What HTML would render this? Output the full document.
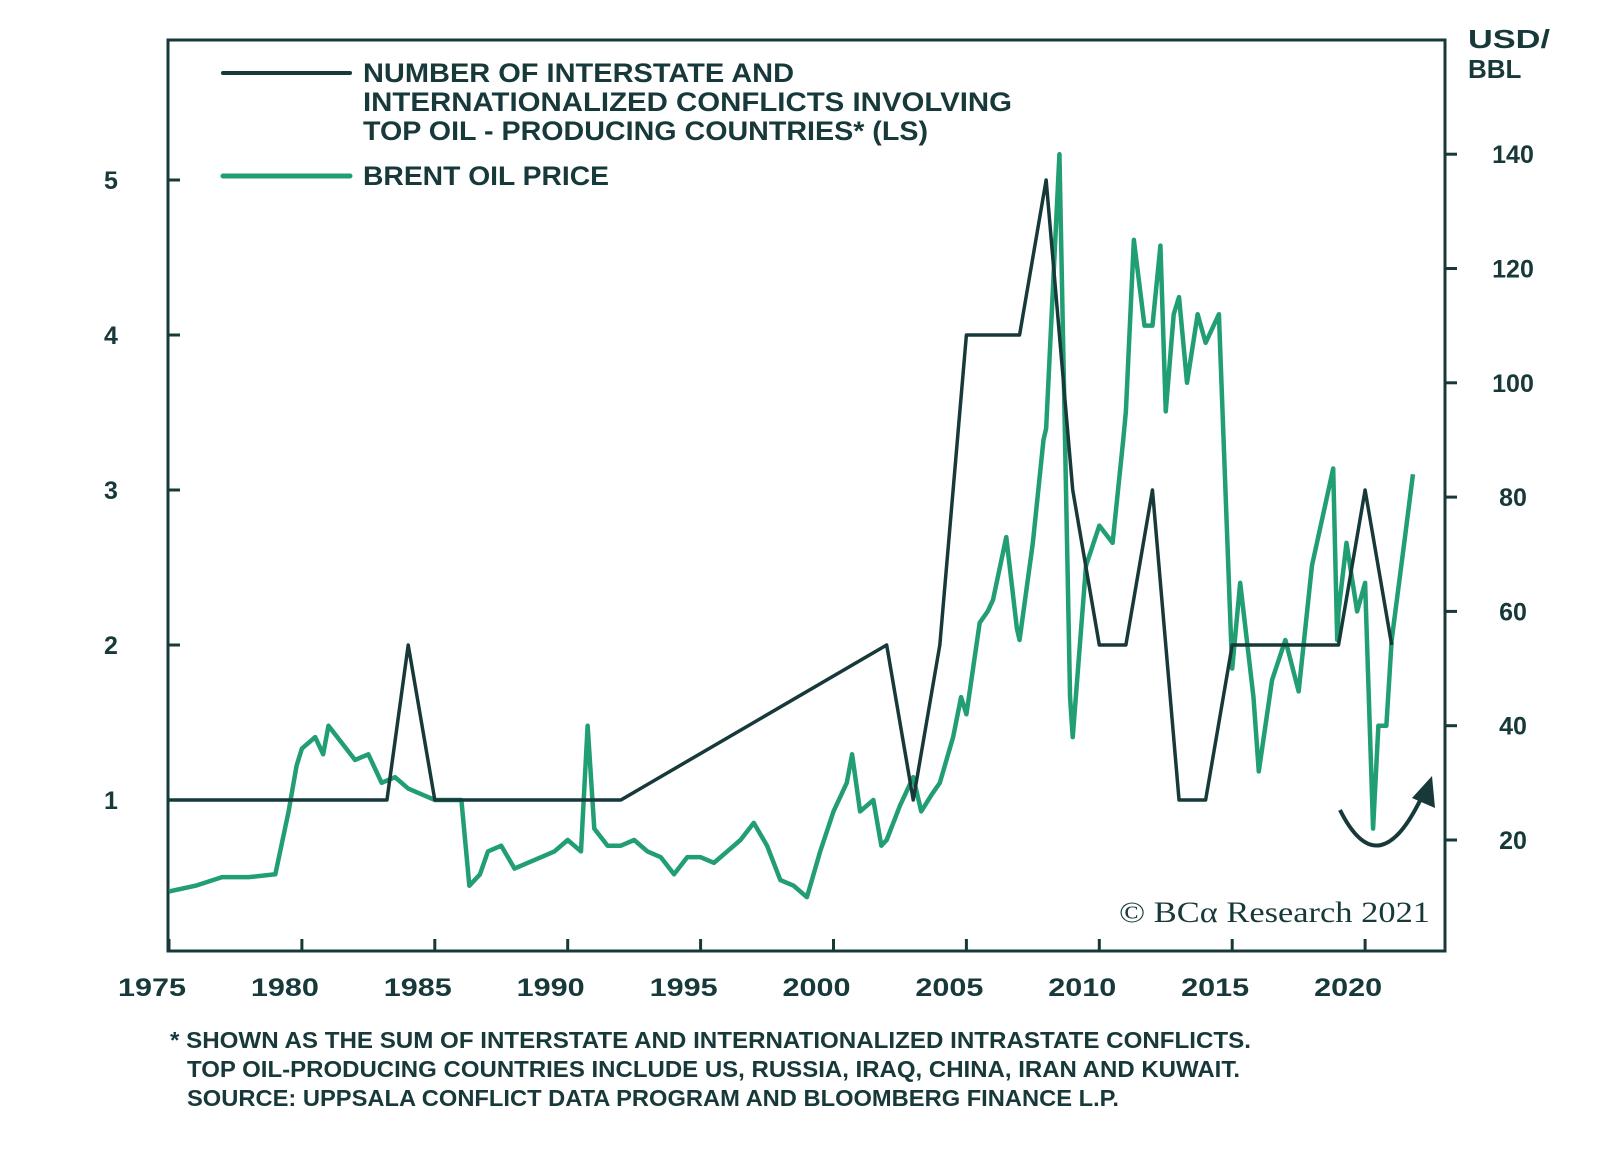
<!DOCTYPE html>
<html><head><meta charset="utf-8"><style>
body{margin:0;background:#fff;}
svg{display:block;font-family:"Liberation Sans",sans-serif;}
</style></head><body>
<svg id="chart" width="1600" height="1158" viewBox="0 0 1600 1158">
<g id="axes"></g>
<g id="series"></g>
<g font-weight="bold" font-size="27" fill="#17393a">
 <line x1="223" y1="73" x2="350" y2="73" stroke="#17393a" stroke-width="4" stroke-linecap="round"/>
 <text x="363" y="82" textLength="431" lengthAdjust="spacingAndGlyphs">NUMBER OF INTERSTATE AND</text>
 <text x="363" y="111" textLength="649" lengthAdjust="spacingAndGlyphs">INTERNATIONALIZED CONFLICTS INVOLVING</text>
 <text x="363" y="140" textLength="565" lengthAdjust="spacingAndGlyphs">TOP OIL - PRODUCING COUNTRIES* (LS)</text>
 <line x1="223" y1="176" x2="350" y2="176" stroke="#229e73" stroke-width="5" stroke-linecap="round"/>
 <text x="363" y="185" textLength="246" lengthAdjust="spacingAndGlyphs">BRENT OIL PRICE</text>
</g>
<g font-weight="bold" font-size="26" fill="#17393a">
 <text x="1468" y="48" textLength="82" lengthAdjust="spacingAndGlyphs">USD/</text>
 <text x="1468" y="78">BBL</text>
</g>
<text x="1119" y="922" textLength="311" lengthAdjust="spacingAndGlyphs" font-family="Liberation Serif,serif" font-size="30" fill="#17393a">© BCα Research 2021</text>
<path d="M1340,810 Q1380,890 1425,790" fill="none" stroke="#17393a" stroke-width="4"/>
<polygon points="1432,776 1435,808 1412,798" fill="#17393a"/>
<g font-weight="bold" font-size="23" fill="#17393a">
 <text x="170" y="1048" textLength="1081" lengthAdjust="spacingAndGlyphs">* SHOWN AS THE SUM OF INTERSTATE AND INTERNATIONALIZED INTRASTATE CONFLICTS.</text>
 <text x="187" y="1077" textLength="1053" lengthAdjust="spacingAndGlyphs">TOP OIL-PRODUCING COUNTRIES INCLUDE US, RUSSIA, IRAQ, CHINA, IRAN AND KUWAIT.</text>
 <text x="187" y="1106" textLength="932" lengthAdjust="spacingAndGlyphs">SOURCE: UPPSALA CONFLICT DATA PROGRAM AND BLOOMBERG FINANCE L.P.</text>
</g>
</svg>
<script>
const conflictYears=[1975,1983.2,1984,1985,1992,2002,2003,2004,2005,2007,2008,2009,2010,2011,2012,2013,2014,2015,2019,2020,2021];
const conflictValues=[1,1,2,1,1,2,1,2,4,4,5,3,2,2,3,1,1,2,2,3,2];
const oilYears=[1975,1976,1977,1978,1979,1979.5,1979.8,1980,1980.5,1980.8,1981,1981.5,1982,1982.5,1983,1983.5,1984,1984.5,1985,1985.5,1986,1986.3,1986.7,1987,1987.5,1988,1988.5,1989,1989.5,1990,1990.5,1990.75,1991,1991.5,1992,1992.5,1993,1993.5,1994,1994.5,1995,1995.5,1996,1996.5,1997,1997.5,1998,1998.5,1999,1999.5,2000,2000.5,2000.7,2001,2001.5,2001.8,2002,2002.5,2003,2003.3,2003.7,2004,2004.5,2004.8,2005,2005.5,2005.8,2006,2006.5,2006.9,2007,2007.5,2007.9,2008,2008.5,2008.9,2009,2009.5,2010,2010.5,2010.9,2011,2011.3,2011.7,2012,2012.3,2012.5,2012.8,2013,2013.3,2013.7,2014,2014.5,2014.9,2015,2015.3,2015.8,2016,2016.5,2017,2017.5,2018,2018.8,2018.95,2019,2019.3,2019.7,2020,2020.3,2020.5,2020.8,2021,2021.5,2021.8];
const oilPrices=[11,12,13.5,13.5,14,25,33,36,38,35,40,37,34,35,30,31,29,28,27,27,27,12,14,18,19,15,16,17,18,20,18,40,22,19,19,20,18,17,14,17,17,16,18,20,23,19,13,12,10,18,25,30,35,25,27,19,20,26,31,25,28,30,38,45,42,58,60,62,73,57,55,72,90,92,140,45,38,68,75,72,90,95,125,110,110,124,95,112,115,100,112,107,112,62,50,65,45,32,48,55,46,68,85,55,60,72,60,65,22,40,40,55,73,84];
const leftTicks=[1,2,3,4,5];
const rightTicks=[20,40,60,80,100,120,140];
const yearTicks=[1975,1980,1985,1990,1995,2000,2005,2010,2015,2020];

const NS="http://www.w3.org/2000/svg";
const L=168,R=1445,T=40,B=951,C="#17393a",G="#229e73";
const x=y=>169+(y-1975)*26.58;
const yl=v=>800-(v-1)*155;
const yr=v=>840-(v-20)*5.715;
function mk(tag,attrs,parent){const e=document.createElementNS(NS,tag);for(const k in attrs)e.setAttribute(k,attrs[k]);parent.appendChild(e);return e;}
const ax=document.getElementById('axes'),se=document.getElementById('series');
const fr=mk('rect',{x:L,y:T,width:R-L,height:B-T,fill:'none',stroke:C,'stroke-width':3},ax);


leftTicks.forEach(v=>{
 const t=mk('line',{x1:L,x2:L+12,y1:yl(v),y2:yl(v),stroke:C,'stroke-width':3},ax);
 
 
 const s=mk('text',{x:111,y:yl(v)+9,'font-size':25,'font-weight':'bold',fill:C,'text-anchor':'middle'},ax);s.textContent=v;
 
 
});
rightTicks.forEach(v=>{
 const t=mk('line',{x1:R,x2:R+12,y1:yr(v),y2:yr(v),stroke:C,'stroke-width':3},ax);
 
 
 const s=mk('text',{x:1513,y:yr(v)+9,'font-size':25,'font-weight':'bold',fill:C,'text-anchor':'middle'},ax);s.textContent=v;
 
 
});
yearTicks.forEach(v=>{
 const t=mk('line',{x1:x(v),x2:x(v),y1:B,y2:B-12,stroke:C,'stroke-width':3},ax);
 
 
 const s=mk('text',{x:x(v)-17,y:996,'font-size':25,'font-weight':'bold',fill:C,'text-anchor':'middle','textLength':68,'lengthAdjust':'spacingAndGlyphs'},ax);s.textContent=v;
 
 
});
const op=mk('polyline',{points:oilYears.map((d,i)=>x(d)+','+yr(oilPrices[i])).join(' '),fill:'none',stroke:G,'stroke-width':4.5,'stroke-linejoin':'round'},se);


const cl=mk('polyline',{points:conflictYears.map((d,i)=>x(d)+','+yl(conflictValues[i])).join(' '),fill:'none',stroke:C,'stroke-width':3.5,'stroke-linejoin':'round'},se);


</script>
</body></html>
